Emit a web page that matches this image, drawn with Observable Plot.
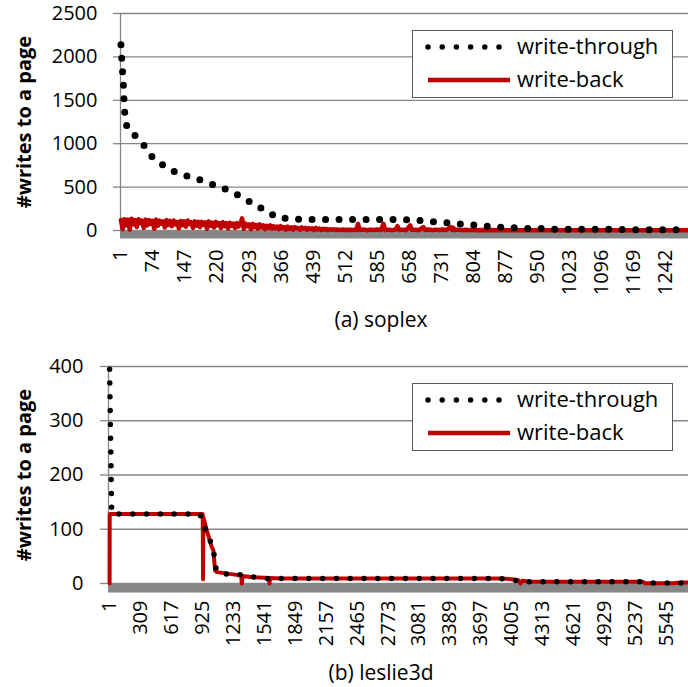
<!DOCTYPE html>
<html><head><meta charset="utf-8">
<script src="https://cdn.jsdelivr.net/npm/d3@7"></script>
<script src="https://cdn.jsdelivr.net/npm/@observablehq/plot@0.6"></script>
<style>
body{margin:0;background:#fff;font-family:"Open Sans",sans-serif;}
.panel{position:relative;width:688px;height:353px;}
.panel svg.chart{display:block}
.caption{position:absolute;left:381px;transform:translateX(-50%);font-size:21px;line-height:26px;white-space:nowrap;color:#000;top:306px}
.legend{position:absolute;left:412px;top:30px}
</style></head>
<body>
<div id="p1" class="panel"></div>
<div id="p2" class="panel" style="height:334px"></div>
<script>
// ---------- (a) soplex ----------
const soplexTicks = [1,74,147,220,293,366,439,512,585,658,731,804,877,950,1023,1096,1169,1242];
const soplexYTicks = [0,500,1000,1500,2000,2500];
const soplexWtCat = [1,3,5,7,8,10,15,36,55,71,93,117,144,172,201,229,257,282,306,332,357,387,404,434,667,697,729,758,788,804,836,866,895,927,959,991,1132,1164,1292];
const soplexWtVal = [2140,1970,1810,1650,1500,1330,1180,1080,970,855,765,690,637,600,545,500,434,372,291,230,146,138,130,127,125,107,96,84,69,65,50,38,31,23,23,15,15,8,8];
const soplexWbCat = [1,5,9,13,17,21,25,29,33,37,41,45,49,53,57,
 61,65,69,73,77,81,85,89,93,97,101,105,109,113,117,
 121,125,129,133,137,141,145,149,153,157,161,165,169,173,177,
 181,185,189,193,197,201,205,209,213,217,221,225,229,233,237,
 241,245,249,253,257,261,265,269,273,277,281,285,289,293,297,
 301,305,309,313,317,321,325,329,333,337,341,345,349,353,357,
 361,365,369,373,377,381,385,389,393,397,401,405,409,413,417,
 421,425,429,433,437,441,445,449,453,457,461,465,469,473,477,
 481,485,489,493,497,501,505,509,513,517,521,525,529,533,537,
 541,545,553,561,569,577,585,593,599,603,611,619,627,631,635,643,651,660,664,672,680,690,694,702,710,718,726,734,742,752,756,758,762,770,778,786,794,802,810,820,900,1000,1100,1200,1292];
const soplexWbVal = [120,15,130,60,125,10,135,70,120,40,130,85,115,30,125,
 60,120,75,110,20,125,55,115,80,105,35,120,65,110,50,
 115,70,100,25,110,60,105,45,115,75,95,30,105,55,100,
 40,100,65,95,20,105,55,90,35,100,60,85,30,95,50,
 85,25,90,55,80,30,85,45,75,140,20,80,50,70,15,
 75,40,65,20,70,35,60,15,55,30,60,20,50,25,45,
 15,50,25,40,10,45,20,35,10,40,25,30,8,35,20,
 30,8,28,15,25,5,30,12,22,5,20,10,18,5,15,
 8,15,5,12,3,10,5,12,3,10,5,8,3,10,5,
 75,5,12,3,10,5,12,4,77,5,10,4,12,50,5,10,4,58,5,10,4,40,5,12,4,10,5,12,4,38,6,30,5,10,4,8,3,8,3,5,3,3,2,3,3];

// ---------- (b) leslie3d ----------
const leslieTicks = [1,309,617,925,1233,1541,1849,2157,2465,2773,3081,3389,3697,4005,4313,4621,4929,5237,5545];
const leslieYTicks = [0,100,200,300,400];
const leslieWtCat = [1,3,5,7,9,11,13,15,17,19,21,25,900,942,984,1001,1034,1051,1068,1131,1300,1430,1570,3900,4000,4050,4150,5300,5350,5763];
const leslieWtVal = [395,368,342,317,291,267,240,214,190,164,138,128,128,104,92,79,64,36,21,18,16,12,9,9,8,5,3,3,1,1];
const leslieWbCat = [1,2,900,928,931,934,968,1018,1034,1051,1068,1300,1310,1317,1325,1400,1585,1592,1600,1700,3900,4000,4070,4090,4110,4200,5310,5330,5600,5700,5763];
const leslieWbVal = [0,128,128,128,8,122,98,67,61,24,21,15,15,0,14,12,10,0,10,9,9,8,6,0,5,3,3,0.5,0.5,2,2];

const seriesNames = ["write-through","write-back"];
const yTitle = "#writes to a page";
const RED = "#C00000", GRID = "#868686";

function zip(c, v) { return c.map((d, i) => ({cat: d, v: v[i]})); }

function panel(o) {
  return Plot.plot({
    width: 688, height: 300,
    marginTop: 13, marginBottom: 70, marginLeft: o.marginLeft, marginRight: 0,
    x: {type: "linear", domain: o.xDomain},
    y: {domain: [0, o.yTicks[o.yTicks.length - 1]]},
    style: {fontFamily: "Open Sans", color: "#000", background: "white", overflow: "visible"},
    marks: [
      Plot.gridY(o.yTicks, {stroke: GRID, strokeOpacity: 1, strokeWidth: 1.3}),
      Plot.axisY(o.yTicks, {tickSize: o.tickSize, tickPadding: o.tickPadY, stroke: GRID, strokeWidth: 1.3, fill: "#000", fontSize: 20, label: null, tickFormat: d => String(d)}),
      Plot.ruleX([o.xDomain[0]], {y1: 0, y2: o.yTicks[o.yTicks.length - 1], stroke: GRID, strokeWidth: 1.3}),
      Plot.ruleY([0], {stroke: "#878787", strokeWidth: o.bandW, dy: o.bandW / 2}),
      Plot.axisX(o.xTicks, {tickSize: 0, tickPadding: o.tickPadX, tickRotate: -90, fontSize: 20, label: null, tickFormat: d => String(d), fill: "#000"}),
      Plot.line(o.wb, {x: "cat", y: "v", stroke: RED, strokeWidth: o.wbWidth, strokeLinejoin: "round"}),
      Plot.line(o.wt, {x: "cat", y: "v", stroke: "#000", strokeWidth: o.dotW, strokeDasharray: `0 ${o.dotGap}`, strokeLinecap: "round"}),
      Plot.text([yTitle], {frameAnchor: "left", textAnchor: "middle", dx: o.titleDx, rotate: -90, fontWeight: "bold", fontSize: 20, fill: "#000"})
    ]
  });
}

function legend() {
  const svg = d3.create("svg").attr("class", "legend").attr("width", 261).attr("height", 68);
  svg.append("rect").attr("x", 0.5).attr("y", 0.5).attr("width", 260).attr("height", 67).attr("fill", "#fff").attr("stroke", "#595959").attr("stroke-width", 1);
  svg.append("line").attr("x1", 16).attr("x2", 88).attr("y1", 17).attr("y2", 17).attr("stroke", "#000").attr("stroke-width", 5.5).attr("stroke-linecap", "round").attr("stroke-dasharray", "0 14.2");
  svg.append("line").attr("x1", 16).attr("x2", 98).attr("y1", 50).attr("y2", 50).attr("stroke", RED).attr("stroke-width", 4.5);
  svg.append("text").attr("x", 105).attr("y", 24).attr("font-size", 22).attr("font-family", "Open Sans").text(seriesNames[0]);
  svg.append("text").attr("x", 105).attr("y", 57).attr("font-size", 22).attr("font-family", "Open Sans").text(seriesNames[1]);
  return svg.node();
}

function build(id, o, cap) {
  const el = document.getElementById(id);
  const chart = panel(o);
  chart.classList.add("chart");
  el.appendChild(chart);
  el.appendChild(legend());
  const c = document.createElement("div");
  c.className = "caption";
  c.textContent = cap;
  el.appendChild(c);
}

build("p1", {
  marginLeft: 120, xDomain: [0, 1294], xTicks: soplexTicks, yTicks: soplexYTicks,
  tickSize: 7, tickPadY: 16, tickPadX: 19, bandW: 8,
  wt: zip(soplexWtCat, soplexWtVal), wb: zip(soplexWbCat, soplexWbVal),
  wbWidth: 4.5, dotW: 7, dotGap: 13.5, titleDx: -96
}, "(a) soplex");

build("p2", {
  marginLeft: 108, xDomain: [-10, 5763], xTicks: leslieTicks, yTicks: leslieYTicks,
  tickSize: 8, tickPadY: 17, tickPadX: 17, bandW: 9,
  wt: zip(leslieWtCat, leslieWtVal), wb: zip(leslieWbCat, leslieWbVal),
  wbWidth: 4, dotW: 5.5, dotGap: 13.8, titleDx: -84
}, "(b) leslie3d");
</script>
</body></html>
